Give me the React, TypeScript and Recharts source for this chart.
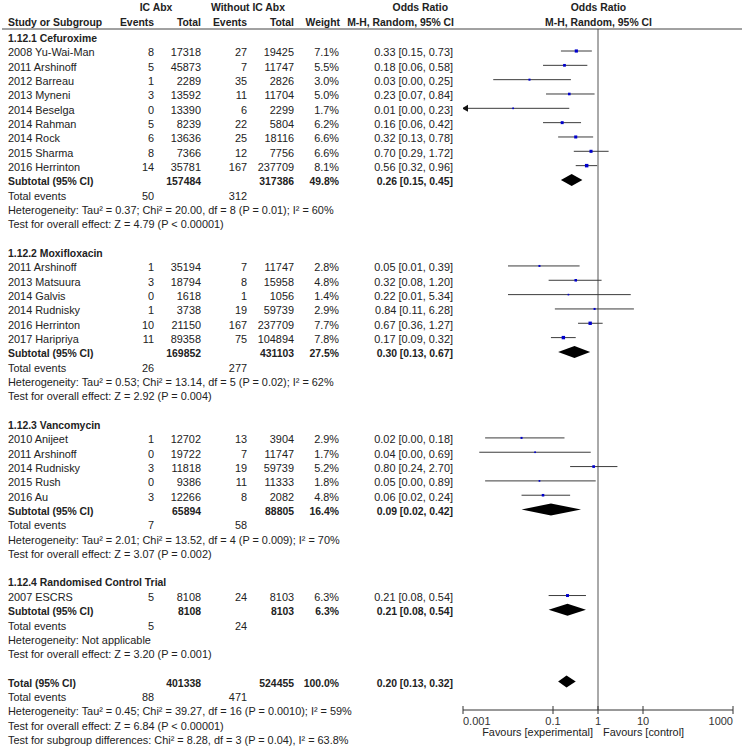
import { ReferenceLine, Scatter, ScatterChart, XAxis, YAxis } from 'recharts'

type Study = {
  study: string
  e1: number
  n1: number
  e2: number
  n2: number
  weight: number
  or: number
  lo: number
  hi: number
}

type Subgroup = {
  title: string
  studies: Study[]
  n1: number
  n2: number
  weight: number
  or: number
  lo: number
  hi: number
  events1: number
  events2: number
  heterogeneity: string
  overall: string
}

const cefuroxime: Study[] = [
  { study: '2008 Yu-Wai-Man', e1: 8, n1: 17318, e2: 27, n2: 19425, weight: 7.1, or: 0.33, lo: 0.15, hi: 0.73 },
  { study: '2011 Arshinoff', e1: 5, n1: 45873, e2: 7, n2: 11747, weight: 5.5, or: 0.18, lo: 0.06, hi: 0.58 },
  { study: '2012 Barreau', e1: 1, n1: 2289, e2: 35, n2: 2826, weight: 3.0, or: 0.03, lo: 0.0047, hi: 0.25 },
  { study: '2013 Myneni', e1: 3, n1: 13592, e2: 11, n2: 11704, weight: 5.0, or: 0.23, lo: 0.07, hi: 0.84 },
  { study: '2014 Beselga', e1: 0, n1: 13390, e2: 6, n2: 2299, weight: 1.7, or: 0.013, lo: 0.0005, hi: 0.23 },
  { study: '2014 Rahman', e1: 5, n1: 8239, e2: 22, n2: 5804, weight: 6.2, or: 0.16, lo: 0.06, hi: 0.42 },
  { study: '2014 Rock', e1: 6, n1: 13636, e2: 25, n2: 18116, weight: 6.6, or: 0.32, lo: 0.13, hi: 0.78 },
  { study: '2015 Sharma', e1: 8, n1: 7366, e2: 12, n2: 7756, weight: 6.6, or: 0.7, lo: 0.29, hi: 1.72 },
  { study: '2016 Herrinton', e1: 14, n1: 35781, e2: 167, n2: 237709, weight: 8.1, or: 0.56, lo: 0.32, hi: 0.96 },
]

const moxifloxacin: Study[] = [
  { study: '2011 Arshinoff', e1: 1, n1: 35194, e2: 7, n2: 11747, weight: 2.8, or: 0.05, lo: 0.01, hi: 0.39 },
  { study: '2013 Matsuura', e1: 3, n1: 18794, e2: 8, n2: 15958, weight: 4.8, or: 0.32, lo: 0.08, hi: 1.2 },
  { study: '2014 Galvis', e1: 0, n1: 1618, e2: 1, n2: 1056, weight: 1.4, or: 0.22, lo: 0.01, hi: 5.34 },
  { study: '2014 Rudnisky', e1: 1, n1: 3738, e2: 19, n2: 59739, weight: 2.9, or: 0.84, lo: 0.11, hi: 6.28 },
  { study: '2016 Herrinton', e1: 10, n1: 21150, e2: 167, n2: 237709, weight: 7.7, or: 0.67, lo: 0.36, hi: 1.27 },
  { study: '2017 Haripriya', e1: 11, n1: 89358, e2: 75, n2: 104894, weight: 7.8, or: 0.17, lo: 0.09, hi: 0.32 },
]

const vancomycin: Study[] = [
  { study: '2010 Anijeet', e1: 1, n1: 12702, e2: 13, n2: 3904, weight: 2.9, or: 0.02, lo: 0.0031, hi: 0.18 },
  { study: '2011 Arshinoff', e1: 0, n1: 19722, e2: 7, n2: 11747, weight: 1.7, or: 0.04, lo: 0.0023, hi: 0.69 },
  { study: '2014 Rudnisky', e1: 3, n1: 11818, e2: 19, n2: 59739, weight: 5.2, or: 0.8, lo: 0.24, hi: 2.7 },
  { study: '2015 Rush', e1: 0, n1: 9386, e2: 11, n2: 11333, weight: 1.8, or: 0.05, lo: 0.0031, hi: 0.89 },
  { study: '2016 Au', e1: 3, n1: 12266, e2: 8, n2: 2082, weight: 4.8, or: 0.06, lo: 0.02, hi: 0.24 },
]

const rct: Study[] = [
  { study: '2007 ESCRS', e1: 5, n1: 8108, e2: 24, n2: 8103, weight: 6.3, or: 0.21, lo: 0.08, hi: 0.54 },
]

const subgroups: Subgroup[] = [
  {
    title: '1.12.1 Cefuroxime', studies: cefuroxime, n1: 157484, n2: 317386, weight: 49.8, or: 0.26, lo: 0.15, hi: 0.45,
    events1: 50, events2: 312,
    heterogeneity: 'Heterogeneity: Tau² = 0.37; Chi² = 20.00, df = 8 (P = 0.01); I² = 60%',
    overall: 'Test for overall effect: Z = 4.79 (P < 0.00001)',
  },
  {
    title: '1.12.2 Moxifloxacin', studies: moxifloxacin, n1: 169852, n2: 431103, weight: 27.5, or: 0.3, lo: 0.13, hi: 0.67,
    events1: 26, events2: 277,
    heterogeneity: 'Heterogeneity: Tau² = 0.53; Chi² = 13.14, df = 5 (P = 0.02); I² = 62%',
    overall: 'Test for overall effect: Z = 2.92 (P = 0.004)',
  },
  {
    title: '1.12.3 Vancomycin', studies: vancomycin, n1: 65894, n2: 88805, weight: 16.4, or: 0.09, lo: 0.02, hi: 0.42,
    events1: 7, events2: 58,
    heterogeneity: 'Heterogeneity: Tau² = 2.01; Chi² = 13.52, df = 4 (P = 0.009); I² = 70%',
    overall: 'Test for overall effect: Z = 3.07 (P = 0.002)',
  },
  {
    title: '1.12.4 Randomised Control Trial', studies: rct, n1: 8108, n2: 8103, weight: 6.3, or: 0.21, lo: 0.08, hi: 0.54,
    events1: 5, events2: 24,
    heterogeneity: 'Heterogeneity: Not applicable',
    overall: 'Test for overall effect: Z = 3.20 (P = 0.001)',
  },
]

const overall = { n1: 401338, n2: 524455, weight: 100.0, or: 0.2, lo: 0.13, hi: 0.32, events1: 88, events2: 471 }
const overallNotes = [
  'Heterogeneity: Tau² = 0.45; Chi² = 39.27, df = 16 (P = 0.0010); I² = 59%',
  'Test for overall effect: Z = 6.84 (P < 0.00001)',
  'Test for subgroup differences: Chi² = 8.28, df = 3 (P = 0.04), I² = 63.8%',
]

const TICKS = [0.001, 0.1, 1, 10, 1000]
const X_MIN = 0.001
const X_MAX = 1000

// layout
const W = 746
const H = 750
const ROW0 = 51
const PITCH = 14.33
const PLOT_TOP = 29
const PLOT_BOTTOM = 710
const PLOT_LEFT = 463
const PLOT_RIGHT = 733
const AXIS_H = H - PLOT_BOTTOM
const yDomain = [(PLOT_TOP - ROW0) / PITCH, (PLOT_BOTTOM - ROW0) / PITCH]
const rowY = (r: number) => ROW0 + r * PITCH + 1.5

const FONT = '"Liberation Sans", Arial, sans-serif'
const INK = '#222'
const COL = { study: 8, e1: 154, n1: 201, e2: 247, n2: 294, weight: 339, or: 453 }

const fmtCI = (or: number, lo: number, hi: number) =>
  `${or.toFixed(2)} [${lo.toFixed(2)}, ${hi.toFixed(2)}]`

function T({ x, y, anchor = 'start', bold, children }: any) {
  return (
    <text x={x} y={y} dy="0.35em" textAnchor={anchor} fontFamily={FONT} fontSize={bold ? 10.4 : 10.9}
      fontWeight={bold ? 'bold' : 'normal'} fill={INK}>
      {children}
    </text>
  )
}

const Square = (p: any) => {
  const s = 1.2 + p.payload.weight * 0.28
  return <rect x={p.cx - s / 2} y={p.cy - s / 2} width={s} height={s} fill="#0000cc" />
}

const Arrow = (p: any) => (
  <path d={`M${p.cx - 1},${p.cy} L${p.cx + 5},${p.cy - 3.5} L${p.cx + 5},${p.cy + 3.5} Z`} fill="#111" />
)

const diamondShape = (d: { or: number; lo: number; hi: number }) => (p: any) => {
  const t = (Math.log(d.or) - Math.log(d.lo)) / (Math.log(d.hi) - Math.log(d.lo))
  const xm = p.x1 + (p.x2 - p.x1) * t
  return (
    <polygon points={`${p.x1},${p.y1} ${xm},${p.y1 - 6} ${p.x2},${p.y1} ${xm},${p.y1 + 6}`} fill="#000" />
  )
}

const AxisTick = (p: any) => {
  const { x, payload, index } = p
  const anchor = index === 0 ? 'start' : index === TICKS.length - 1 ? 'end' : 'middle'
  return (
    <g>
      <line x1={x} x2={x} y1={PLOT_BOTTOM - 4} y2={PLOT_BOTTOM + 4} stroke="#333" />
      <text x={x} y={PLOT_BOTTOM + 11} dy="0.35em" textAnchor={anchor} fontFamily={FONT} fontSize={11} fill="#333">
        {String(payload.value)}
      </text>
    </g>
  )
}

export default function App() {
  const texts: any[] = []
  const points: any[] = []
  const arrows: any[] = []
  const segs: any[] = []
  const diamonds: any[] = []

  let r = -1
  subgroups.forEach((sg, gi) => {
    texts.push(<T key={`h${gi}`} x={COL.study} y={rowY(r)} bold>{sg.title}</T>)
    r++
    sg.studies.forEach((s, si) => {
      const y = rowY(r)
      texts.push(
        <g key={`s${gi}-${si}`}>
          <T x={COL.study} y={y}>{s.study}</T>
          <T x={COL.e1} y={y} anchor="end">{s.e1}</T>
          <T x={COL.n1} y={y} anchor="end">{s.n1}</T>
          <T x={COL.e2} y={y} anchor="end">{s.e2}</T>
          <T x={COL.n2} y={y} anchor="end">{s.n2}</T>
          <T x={COL.weight} y={y} anchor="end">{s.weight.toFixed(1)}%</T>
          <T x={COL.or} y={y} anchor="end">{fmtCI(s.or, s.lo, s.hi)}</T>
        </g>
      )
      points.push({ x: s.or, y: r, weight: s.weight })
      segs.push({ lo: Math.max(s.lo, X_MIN), hi: Math.min(s.hi, X_MAX), y: r })
      if (s.lo < X_MIN) arrows.push({ x: X_MIN, y: r })
      r++
    })
    const ys = rowY(r)
    texts.push(
      <g key={`st${gi}`}>
        <T x={COL.study} y={ys} bold>Subtotal (95% CI)</T>
        <T x={COL.n1} y={ys} anchor="end" bold>{sg.n1}</T>
        <T x={COL.n2} y={ys} anchor="end" bold>{sg.n2}</T>
        <T x={COL.weight} y={ys} anchor="end" bold>{sg.weight.toFixed(1)}%</T>
        <T x={COL.or} y={ys} anchor="end" bold>{fmtCI(sg.or, sg.lo, sg.hi)}</T>
      </g>
    )
    diamonds.push({ or: sg.or, lo: sg.lo, hi: sg.hi, y: r })
    r++
    texts.push(
      <g key={`te${gi}`}>
        <T x={COL.study} y={rowY(r)}>Total events</T>
        <T x={COL.e1} y={rowY(r)} anchor="end">{sg.events1}</T>
        <T x={COL.e2} y={rowY(r)} anchor="end">{sg.events2}</T>
      </g>
    )
    r++
    texts.push(<T key={`he${gi}`} x={COL.study} y={rowY(r)}>{sg.heterogeneity}</T>)
    r++
    texts.push(<T key={`oe${gi}`} x={COL.study} y={rowY(r)}>{sg.overall}</T>)
    r++
    r++
  })

  const yt = rowY(r)
  texts.push(
    <g key="total">
      <T x={COL.study} y={yt} bold>Total (95% CI)</T>
      <T x={COL.n1} y={yt} anchor="end" bold>{overall.n1}</T>
      <T x={COL.n2} y={yt} anchor="end" bold>{overall.n2}</T>
      <T x={COL.weight} y={yt} anchor="end" bold>{overall.weight.toFixed(1)}%</T>
      <T x={COL.or} y={yt} anchor="end" bold>{fmtCI(overall.or, overall.lo, overall.hi)}</T>
    </g>
  )
  diamonds.push({ or: overall.or, lo: overall.lo, hi: overall.hi, y: r })
  r++
  texts.push(
    <g key="tev">
      <T x={COL.study} y={rowY(r)}>Total events</T>
      <T x={COL.e1} y={rowY(r)} anchor="end">{overall.events1}</T>
      <T x={COL.e2} y={rowY(r)} anchor="end">{overall.events2}</T>
    </g>
  )
  r++
  overallNotes.forEach((n, i) => {
    texts.push(<T key={`on${i}`} x={COL.study} y={rowY(r)}>{n}</T>)
    r++
  })

  const midX = (PLOT_LEFT + PLOT_RIGHT) / 2 + 0.5 // x of OR = 1, used only for header text

  return (
    <div style={{ position: 'relative', width: W, height: H }}>
      <style>{'body{margin:0}'}</style>
      <ScatterChart
        width={W}
        height={H}
        margin={{ top: PLOT_TOP, right: W - PLOT_RIGHT, left: PLOT_LEFT, bottom: 0 }}
      >
        <XAxis
          type="number"
          dataKey="x"
          scale="log"
          domain={[X_MIN, X_MAX]}
          ticks={TICKS}
          interval={0}
          allowDataOverflow
          height={AXIS_H}
          axisLine={{ stroke: '#333' }}
          tickLine={false}
          tickSize={0}
          tick={<AxisTick />}
        />
        <YAxis type="number" dataKey="y" domain={yDomain} reversed hide allowDataOverflow width={0} />
        <ReferenceLine x={1} stroke="#555" ifOverflow="visible" />
        {segs.map((s, i) => (
          <ReferenceLine
            key={`ci${i}`}
            segment={[{ x: s.lo, y: s.y }, { x: s.hi, y: s.y }]}
            stroke="#3c3c3c"
            ifOverflow="visible"
          />
        ))}
        {diamonds.map((d, i) => (
          <ReferenceLine
            key={`d${i}`}
            segment={[{ x: d.lo, y: d.y }, { x: d.hi, y: d.y }]}
            ifOverflow="visible"
            shape={diamondShape(d)}
          />
        ))}
        <Scatter data={points} shape={Square} isAnimationActive={false} />
        <Scatter data={arrows} shape={Arrow} isAnimationActive={false} />
      </ScatterChart>
      <svg width={W} height={H} style={{ position: 'absolute', left: 0, top: 0, pointerEvents: 'none' }}>
        <T x={156} y={7.5} anchor="middle" bold>IC Abx</T>
        <T x={248} y={7.5} anchor="middle" bold>Without IC Abx</T>
        <T x={448} y={7.5} anchor="end" bold>Odds Ratio</T>
        <T x={midX} y={7.5} anchor="middle" bold>Odds Ratio</T>
        <T x={COL.study} y={22.5} bold>Study or Subgroup</T>
        <T x={COL.e1} y={22.5} anchor="end" bold>Events</T>
        <T x={COL.n1} y={22.5} anchor="end" bold>Total</T>
        <T x={COL.e2} y={22.5} anchor="end" bold>Events</T>
        <T x={COL.n2} y={22.5} anchor="end" bold>Total</T>
        <T x={COL.weight + 1} y={22.5} anchor="end" bold>Weight</T>
        <T x={454} y={22.5} anchor="end" bold>M-H, Random, 95% CI</T>
        <T x={midX} y={22.5} anchor="middle" bold>M-H, Random, 95% CI</T>
        <line x1={2} x2={742} y1={PLOT_TOP} y2={PLOT_TOP} stroke="#444" />
        {texts}
        <T x={593} y={732.5} anchor="end">Favours [experimental]</T>
        <T x={603} y={732.5}>Favours [control]</T>
      </svg>
    </div>
  )
}
